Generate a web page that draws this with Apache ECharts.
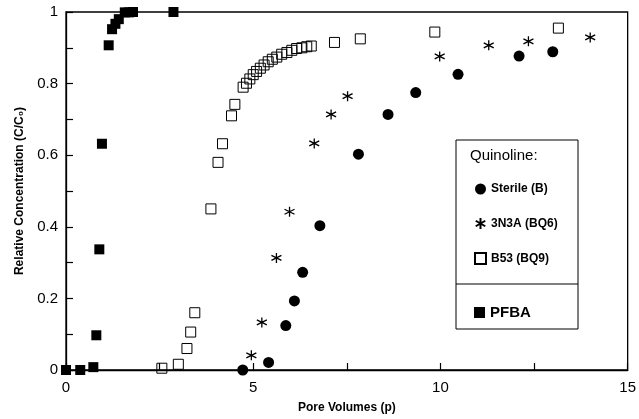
<!DOCTYPE html>
<html><head><meta charset="utf-8">
<script src="https://cdn.jsdelivr.net/npm/echarts@6/dist/echarts.min.js"></script>
<style>html,body{margin:0;padding:0;background:#fff}#c{width:639px;height:419px}</style>
</head><body><div id="c"></div>
<script>
// Pore volumes (x) and relative concentration C/C0 (y)
const sterileX = [4.72, 5.41, 5.87, 6.10, 6.32, 6.78, 7.81, 8.60, 9.34, 10.47, 12.10, 13.00];
const sterileY = [0.000, 0.021, 0.124, 0.193, 0.273, 0.403, 0.603, 0.714, 0.775, 0.826, 0.877, 0.889];

const n3aX = [4.95, 5.23, 5.62, 5.97, 6.63, 7.08, 7.52, 9.98, 11.29, 12.35, 14.00];
const n3aY = [0.041, 0.133, 0.313, 0.442, 0.633, 0.714, 0.765, 0.876, 0.907, 0.918, 0.929];

const b53X = [2.56, 3.00, 3.23, 3.33, 3.44, 3.87, 4.06, 4.18, 4.42, 4.51, 4.73, 4.82, 4.91, 5.00, 5.09, 5.19, 5.29, 5.40, 5.51, 5.63, 5.76, 5.90, 6.03, 6.16, 6.30, 6.43, 6.55, 7.17, 7.86, 9.85, 13.15];
const b53Y = [0.005, 0.016, 0.060, 0.106, 0.160, 0.450, 0.580, 0.632, 0.710, 0.742, 0.790, 0.801, 0.813, 0.825, 0.834, 0.843, 0.852, 0.861, 0.868, 0.874, 0.882, 0.887, 0.893, 0.898, 0.900, 0.903, 0.905, 0.915, 0.925, 0.944, 0.955];

const pfbaX = [0.00, 0.38, 0.73, 0.81, 0.89, 0.96, 1.14, 1.23, 1.32, 1.41, 1.57, 1.68, 1.79, 2.87];
const pfbaY = [0.000, 0.000, 0.008, 0.097, 0.337, 0.632, 0.907, 0.952, 0.967, 0.980, 0.999, 0.999, 1.000, 1.000];

const seriesNames = ['Sterile (B)', '3N3A (BQ6)', 'B53 (BQ9)', 'PFBA'];
const legendTitle = 'Quinoline:';
const xTitle = 'Pore Volumes (p)';
const yTitle = 'Relative Concentration (C/C\u2080)';

const pairs = (xs, ys) => xs.map((x, i) => [x, ys[i]]);
const FONT = '"Liberation Sans", Arial, sans-serif';
const asterisk = 'path://M0,-1L0,1M-0.866,-0.5L0.866,0.5M-0.866,0.5L0.866,-0.5';

const chart = echarts.init(document.getElementById('c'), null, {renderer: 'canvas'});
chart.setOption({
  backgroundColor: '#fff',
  animation: false,
  grid: {left: 66, top: 12, width: 564, height: 364, show: true, borderColor: '#000', borderWidth: 1.3, backgroundColor: 'transparent'},
  xAxis: {
    type: 'value', min: 0, max: 15, interval: 5,
    name: xTitle, nameLocation: 'middle', nameGap: 32,
    nameTextStyle: {fontFamily: FONT, fontWeight: 'bold', fontSize: 12, color: '#000'},
    axisLine: {lineStyle: {color: '#000', width: 1.3}},
    axisTick: {inside: true, length: 7, lineStyle: {color: '#000', width: 1.2}},
    minorTick: {show: true, splitNumber: 2, length: 7, lineStyle: {color: '#000', width: 1.2}},
    splitLine: {show: false},
    axisLabel: {fontFamily: FONT, fontSize: 15, color: '#000', margin: 10}
  },
  yAxis: {
    type: 'value', min: 0, max: 1, interval: 0.2,
    name: yTitle, nameLocation: 'middle', nameGap: 40,
    nameTextStyle: {fontFamily: FONT, fontWeight: 'bold', fontSize: 12, color: '#000'},
    axisLine: {lineStyle: {color: '#000', width: 1.3}},
    axisTick: {inside: true, length: 7, lineStyle: {color: '#000', width: 1.2}},
    minorTick: {show: true, splitNumber: 2, length: 7, lineStyle: {color: '#000', width: 1.2}},
    splitLine: {show: false},
    axisLabel: {fontFamily: FONT, fontSize: 15, color: '#000', margin: 8,
      formatter: v => String(Math.round(v * 10) / 10)}
  },
  legend: [
    {
      data: seriesNames.slice(0, 3), orient: 'vertical', left: 469, top: 178,
      itemGap: 22, itemWidth: 11, itemHeight: 11,
      textStyle: {fontFamily: FONT, fontSize: 12, fontWeight: 'bold', color: '#000'}
    },
    {
      data: [seriesNames[3]], orient: 'vertical', left: 469, top: 300,
      itemWidth: 11, itemHeight: 11,
      textStyle: {fontFamily: FONT, fontSize: 15, fontWeight: 'bold', color: '#000'}
    }
  ],
  graphic: [
    {type: 'rect', shape: {x: 456, y: 140, width: 122, height: 189}, style: {fill: '#fff', stroke: '#000', lineWidth: 1}, z: 0, silent: true},
    {type: 'line', shape: {x1: 456, y1: 284, x2: 578, y2: 284}, style: {stroke: '#000', lineWidth: 1}, z: 1, silent: true},
    {type: 'text', left: 470, top: 148, style: {text: legendTitle, font: '15px ' + FONT, fill: '#000'}, z: 1, silent: true}
  ],
  series: [
    {name: seriesNames[0], type: 'scatter', data: pairs(sterileX, sterileY), symbol: 'circle', symbolSize: 11,
      itemStyle: {color: '#000', opacity: 1}, z: 5},
    {name: seriesNames[1], type: 'scatter', data: pairs(n3aX, n3aY), symbol: asterisk, symbolSize: 10,
      itemStyle: {color: 'rgba(0,0,0,0)', borderColor: '#000', borderWidth: 1.3, opacity: 1}, z: 5},
    {name: seriesNames[2], type: 'scatter', data: pairs(b53X, b53Y), symbol: 'rect', symbolSize: 10,
      itemStyle: {color: 'rgba(255,255,255,0)', borderColor: '#000', borderWidth: 1, opacity: 1}, z: 5},
    {name: seriesNames[3], type: 'scatter', data: pairs(pfbaX, pfbaY), symbol: 'rect', symbolSize: 10,
      itemStyle: {color: '#000', opacity: 1}, z: 5}
  ]
});
</script>
</body></html>
